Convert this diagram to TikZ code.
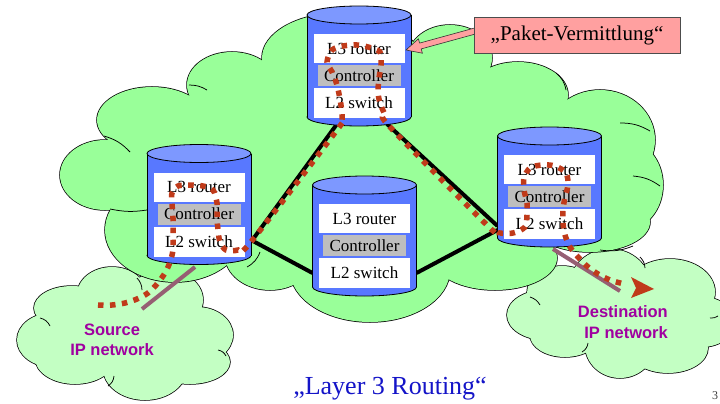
\documentclass[tikz,border=0pt]{standalone}
\usepackage{fontspec}
\setmainfont{Liberation Serif}
\newfontfamily\sansb{Liberation Sans}
\usetikzlibrary{calc}
\definecolor{bigcloud}{RGB}{153,255,153}
\definecolor{smallcloud}{RGB}{195,255,195}
\definecolor{cylblue}{RGB}{88,120,255}
\definecolor{cyltop}{RGB}{125,152,255}
\definecolor{ctrlgray}{RGB}{190,190,190}
\definecolor{pinkc}{RGB}{255,160,160}
\definecolor{pathred}{RGB}{192,58,26}
\definecolor{mauve}{RGB}{150,95,115}
\definecolor{labpurple}{RGB}{160,0,160}
\definecolor{titleblue}{RGB}{20,20,200}

\tikzset{
  cylline/.style={draw=black, line width=0.8pt},
  cylspan/.style={minimum width=104pt, minimum height=120pt, inner sep=0pt, outer sep=0pt},
  boxtext/.style={inner sep=0pt, outer sep=0pt, font=\fontsize{17}{20}\selectfont},
  l3box/.style={boxtext, fill=white, minimum width=91pt, minimum height=29pt},
  ctrlbox/.style={boxtext, fill=ctrlgray, minimum width=83pt, minimum height=21pt},
  l2box/.style={boxtext, fill=white, minimum width=91pt, minimum height=30pt},
  link/.style={draw=black, line width=4pt},
  redpath/.style={draw=pathred, line width=5.5pt, dash pattern=on 5.5pt off 6.5pt},
  mauveline/.style={draw=mauve, line width=4pt},
  innerarc/.style={draw=black, line width=0.75pt},
  netlabel/.style={text=labpurple, font=\sansb\bfseries\fontsize{16.5}{20.5}\selectfont, inner sep=0pt},
  pinkbox/.style={draw=black!70, line width=0.6pt, fill=pinkc, minimum width=206pt, minimum height=36pt, inner sep=0pt, font=\fontsize{21}{24}\selectfont},
}

\newcommand\drawcyl[3]{% name, cx, yt
  \draw[cylline, fill=cylblue] (#2,{#3+102}) ellipse[x radius=52, y radius=9];
  \fill[cylblue] ({#2-52},#3) rectangle ({#2+52},{#3+102});
  \draw[cylline] ({#2-52},#3) -- ({#2-52},{#3+102}) ({#2+52},#3) -- ({#2+52},{#3+102});
  \draw[cylline, fill=cyltop] (#2,#3) ellipse[x radius=52, y radius=9];
  \node[l3box] (#1-l3) at (#2,{#3+33.5}) {L3 router};
  \node[ctrlbox] (#1-ct) at (#2,{#3+60.5}) {Controller};
  \node[l2box] (#1-l2) at (#2,{#3+88}) {L2 switch};
}

\newcommand\cloudpuffs[2]{% fill colour, list of puffs
  \foreach \px/\py/\pa/\pb in {#2}
    \draw[line width=1.5pt] (\px,\py) ellipse[x radius=\pa, y radius=\pb];
  \foreach \px/\py/\pa/\pb in {#2}
    \fill[#1] (\px,\py) ellipse[x radius=\pa, y radius=\pb];
}

\begin{document}
\begin{tikzpicture}[x=1pt, y=-1pt]
\useasboundingbox (0,0) rectangle (720,404);
\fill[white] (0,0) rectangle (720,404);

% source cloud
\cloudpuffs{smallcloud}{52/340/35/27, 72/308/38/22, 112/295/35/28, 165/300/38/30, 197/335/36/28, 190/362/40/22, 145/368/42/32, 75/358/40/26}
\fill[smallcloud] (52,340) -- (72,308) -- (112,295) -- (165,300) -- (197,335) -- (190,362) -- (145,368) -- (75,358) -- cycle;
\draw[innerarc] (40,318) to[bend left=25] (50,326);
\draw[innerarc] (137,278) to[bend left=20] (142,290);
\draw[innerarc] (218,350) to[bend left=25] (226,356);
\draw[innerarc] (108,386) to[bend right=25] (114,376);

% destination cloud
\cloudpuffs{smallcloud}{545/315/38/25, 562/293/35/27, 610/285/40/36, 670/292/45/33, 702/322/33/25, 668/348/40/25, 620/345/35/33, 565/335/35/22}
\fill[smallcloud] (545,315) -- (562,293) -- (610,285) -- (670,292) -- (702,322) -- (668,348) -- (620,345) -- (565,335) -- cycle;
\draw[innerarc] (530,297) to[bend left=20] (540,305);
\draw[innerarc] (640,257) to[bend left=20] (645,268);
\draw[innerarc] (710,318) to[bend right=20] (718,316);
\draw[innerarc] (582,352) to[bend right=25] (588,343);

% big cloud
\cloudpuffs{bigcloud}{105/175/45/35, 152/120/55/33, 232/85/45/33, 340/58/78/45, 450/58/42/33, 518/95/50/33, 600/140/55/50, 625/185/38/45, 590/222/60/30, 495/258/62/32, 370/270/80/52, 270/255/45/35, 175/230/70/52}
\fill[bigcloud] (105,175) -- (152,120) -- (232,85) -- (340,58) -- (450,58) -- (518,95) -- (600,140) -- (625,185) -- (590,222) -- (495,258) -- (370,270) -- (270,255) -- (175,230) -- cycle;
\draw[innerarc] (104,136) to[bend left=15] (130,152);
\draw[innerarc] (110,209) to[bend right=10] (147,210);
\draw[innerarc] (189,85) to[bend left=15] (207,90);
\draw[innerarc] (556,73) to[bend left=20] (566,90);
\draw[innerarc] (620,123) to[bend left=15] (650,131);
\draw[innerarc] (633,176) to[bend left=15] (660,186);
\draw[innerarc] (600,250) to[bend right=15] (633,246);
\draw[innerarc] (260,252) to[bend left=20] (247,267);

% cylinder anchors
\node[cylspan] (T) at (359,66) {};
\node[cylspan] (L) at (199,204.5) {};
\node[cylspan] (C) at (364.5,236) {};
\node[cylspan] (R) at (549.5,187) {};
\coordinate (Tbl) at ($(T.south)+(-22,-2)$);
\coordinate (Tbr) at ($(T.south)+(28,-2)$);
\coordinate (Lr) at ($(L.east)+(1,36)$);
\coordinate (Cl) at ($(C.west)+(0,37)$);
\coordinate (Cr) at ($(C.east)+(0,37)$);
\coordinate (Rl1) at ($(R.west)+(0,39)$);
\coordinate (Rl2) at ($(R.west)+(0,43)$);

% black links
\draw[link] (Tbl) -- (Lr);
\draw[link] (Lr) -- (Cl);
\draw[link] (Tbr) -- (Rl1);
\draw[link] (Cr) -- (Rl2);

% cylinders
\drawcyl{T}{359}{15}
\drawcyl{L}{199}{153.5}
\drawcyl{C}{364.5}{185}
\drawcyl{R}{549.5}{136}

% access lines
\coordinate (srcA) at (142,309);
\coordinate (srcB) at (195,267);
\coordinate (dstA) at (553,249);
\coordinate (dstB) at (620,291);
\draw[mauveline] (srcA) -- (srcB);
\draw[mauveline] (dstA) -- (dstB);

% red packet path
\coordinate (pstart) at (98,305);
\coordinate (ptip) at (654,289);
\draw[redpath] plot[smooth, tension=0.5] coordinates {
 (pstart) (112,305) (125,303) (137,299) (148,293) (157,284) (165,273) (170,262) (173,250)
 (173,235) (173,218) (172,203) (172,193) (178,186) (190,185) (203,186) (213,190) (217,203)
 (217,217) (218,230) (220,242) (226,250) (238,250) (250,243)
 (337,130) (342,120) (341,105) (337,85) (332,72) (327,62) (332,50) (343,46) (357,45) (368,47)
 (380,52) (381,65) (379,78) (378,92) (380,103) (385,115) (390,127)
 (490,228) (500,233) (513,233) (525,227) (527,215) (527,203) (524,190) (524,178) (530,168)
 (542,165) (555,166) (566,173) (568,185) (565,197) (563,210) (563,223) (565,235) (570,247)
 (578,257) (588,267) (598,274) (610,280) (624,284)};
\fill[pathred] (631,277) -- (ptip) -- (631,298) -- (636,288) -- cycle;

% callout
\draw[black!80, line width=0.6pt, fill=pinkc] (474.2,28.1) -- (419.6,43.1) -- (418.4,38.8) -- (406,50) -- (422.4,53.2) -- (421.2,48.9) -- (475.8,33.9) -- cycle;
\node[pinkbox] (pk) at (577,35) {„Paket-Vermittlung“};

% labels
\node[netlabel, align=center] (srclab) at (112,340) {Source\\IP network};
\node[netlabel, align=right, anchor=east] (dstlab) at (668,322) {Destination\\IP network};
\node[text=titleblue, font=\fontsize{26}{30}\selectfont, inner sep=0pt] (title) at (390,389) {„Layer 3 Routing“};
\node[text=black!75, font=\fontsize{12}{14}\selectfont, inner sep=0pt] (pg) at (715,396) {3};
\end{tikzpicture}
\end{document}
